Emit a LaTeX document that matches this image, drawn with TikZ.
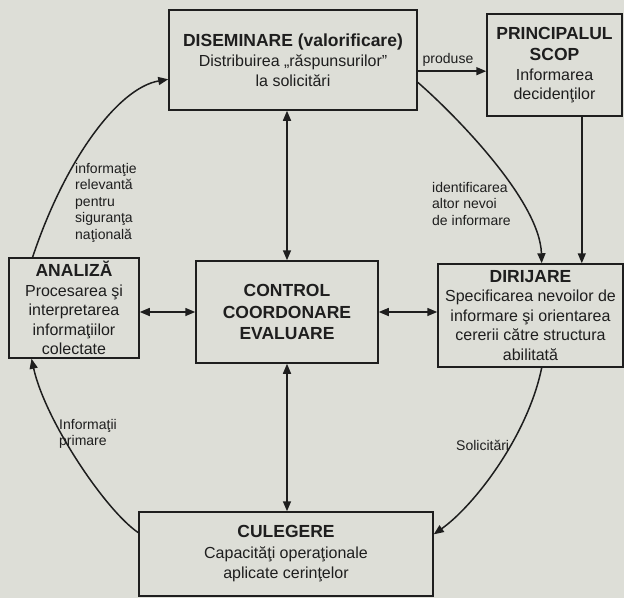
\documentclass[tikz,border=0pt]{standalone}
\usepackage{fontspec}
\setmainfont{Liberation Sans}
\usetikzlibrary{arrows.meta,calc}
\definecolor{bg}{RGB}{221,222,215}
\definecolor{ink}{RGB}{30,30,30}
\newcommand{\ttl}{\fontsize{17.5}{19.5}\selectfont\bfseries}
\tikzset{
  box/.style={draw=ink, line width=1.5pt, rectangle, inner sep=0pt, align=center, text=ink,
    font=\fontsize{16}{19.5}\selectfont},
  lbl/.style={font=\fontsize{14}{16.5}\selectfont, text=ink, inner sep=0pt, align=left},
  arr/.style={draw=ink, line width=1.5pt, -{Triangle[length=10pt,width=8pt]}},
  darr/.style={draw=ink, line width=1.5pt, {Triangle[length=10pt,width=8pt]}-{Triangle[length=10pt,width=8pt]}}
}
\begin{document}
\begin{tikzpicture}[x=1pt,y=-1pt]
\fill[bg] (0,0) rectangle (624,598);
\useasboundingbox (0,0) rectangle (624,598);

\node[box, minimum width=248pt, minimum height=100pt] (dis) at (293,60)
  {{\ttl DISEMINARE (valorificare)}\\[0.5pt]Distribuirea „răspunsurilor”\\la solicitări};
\node[box, minimum width=135pt, minimum height=102pt] (ps) at (554.5,65)
  {{\ttl PRINCIPALUL}\\[2pt]{\ttl SCOP}\\Informarea\\decidenţilor};
\node[box, minimum width=130pt, minimum height=100pt] (an) at (74,308)
  {{\ttl ANALIZĂ}\\Procesarea şi\\interpretarea\\informaţiilor\\colectate};
\node[box, minimum width=182pt, minimum height=102pt] (ctl) at (287,312)
  {{\ttl CONTROL}\\[2pt]{\ttl COORDONARE}\\[2pt]{\ttl EVALUARE}};
\node[box, minimum width=185pt, minimum height=103pt] (dir) at (530.5,315.5)
  {{\ttl DIRIJARE}\\Specificarea nevoilor de\\informare şi orientarea\\cererii către structura\\abilitată};
\node[box, minimum width=294pt, minimum height=84pt] (cul) at (286,554)
  {{\ttl CULEGERE}\\[1.5pt]Capacităţi operaţionale\\[0.5pt]aplicate cerinţelor};

% straight connectors
\coordinate (disE) at ($(dis.north east)!0.61!(dis.south east)$);
\draw[arr] (disE) -- (disE -| ps.west);
\coordinate (psS) at ($(ps.south west)!0.70!(ps.south east)$);
\draw[arr] (psS) -- (psS |- dir.north);
\draw[darr] (ctl.north) -- (ctl.north |- dis.south);
\draw[darr] (ctl.west -| an.east) -- (ctl.west);
\draw[darr] (ctl.east) -- (ctl.east -| dir.west);
\draw[darr] (ctl.south) -- (ctl.south |- cul.north);

% curved connectors
\coordinate (anN) at ($(an.north west)!0.185!(an.north east)$);
\coordinate (disW) at ($(dis.north west)!0.69!(dis.south west)$);
\draw[arr] (anN) .. controls (65,160) and (118,88) .. (disW);

\coordinate (disE2) at ($(dis.north east)!0.72!(dis.south east)$);
\coordinate (dirN) at ($(dir.north west)!0.56!(dir.north east)$);
\draw[arr] (disE2) .. controls (452,112) and (540,200) .. (dirN);

\coordinate (dirS) at ($(dir.south west)!0.56!(dir.south east)$);
\coordinate (culE) at ($(cul.north east)!0.27!(cul.south east)$);
\draw[arr] (dirS) .. controls (528,435) and (475,505) .. (culE);

\coordinate (culW) at ($(cul.north west)!0.25!(cul.south west)$);
\coordinate (anS) at ($(an.south west)!0.177!(an.south east)$);
\draw[arr] (culW) .. controls (105,510) and (45,420) .. (anS);

% labels
\node[lbl, anchor=south] (lprod) at (448,67) {produse};
\node[lbl, anchor=north west] (lid) at (432,182) {identificarea\\altor nevoi\\de informare};
\node[lbl, anchor=north west] (linf) at (75,163) {informaţie\\relevantă\\pentru\\siguranţa\\naţională};
\node[lbl, anchor=north west] (lprim) at (59,419) {Informaţii\\primare};
\node[lbl, anchor=west] (lsol) at (456,445) {Solicitări};
\end{tikzpicture}
\end{document}
